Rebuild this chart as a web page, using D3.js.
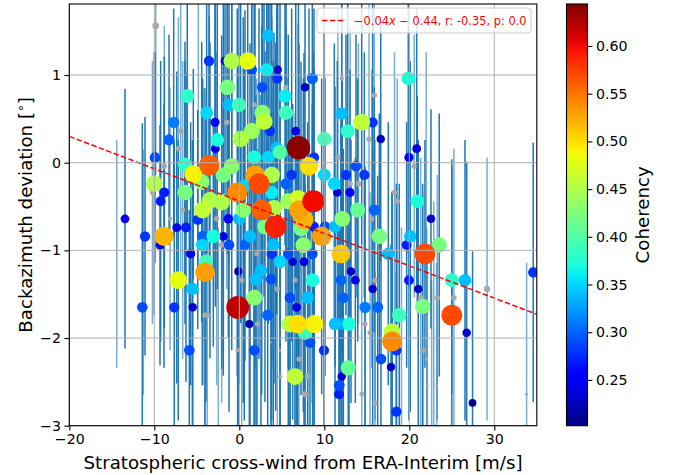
<!DOCTYPE html>
<html><head><meta charset="utf-8">
<script src="https://cdn.jsdelivr.net/npm/d3@7"></script>
<style>body{margin:0;background:#fff} svg{font-family:"DejaVu Sans",sans-serif}</style>
</head><body><svg id="c" width="675" height="475"></svg>
<script>
// ---- data ----
const windX = [3.41,-3.56,-1.68,-0.89,0.99,1.46,3.22,4.52,4.47,2.71,7.73,8.59,-1.39,5.38,-6.12,-1.21,-0.04,-3.84,2.71,5.49,
12.05,-2.86,-7.72,2.91,14.4,15.69,1.46,3.61,6.64,12.76,-8.27,-2.59,0.16,10.0,16.64,19.88,20.87,19.96,6.96,4.40,
-9.92,-2.82,-6.39,-3.53,-5.41,-1.88,-10.0,-4.42,-8.82,-6.39,-9.25,-3.45,-2.07,-4.31,-0.24,1.76,3.41,4.79,-0.89,8.20,
13.73,12.55,14.71,10.0,11.18,11.53,13.02,1.85,2.32,3.81,6.16,5.49,3.81,5.76,6.94,8.71,7.02,2.64,0.47,4.08,
13.93,15.88,20.94,-13.45,-4.89,-1.29,0.0,-7.36,-6.27,-11.09,-8.86,-4.31,-3.06,-1.88,-9.33,-4.35,-1.21,-5.72,-3.92,-4.04,
-7.18,-5.52,12.12,7.61,4.28,3.02,8.79,10.08,11.26,1.26,7.26,9.69,16.47,4.0,7.53,11.96,17.53,0.59,3.81,5.76,
6.28,7.61,8.59,4.79,2.55,-0.12,13.14,11.96,13.65,1.96,3.73,8.63,15.69,19.69,20.11,23.52,21.84,22.55,19.96,25.0,
26.55,21.05,34.58,-11.41,-7.65,-5.48,-0.19,-5.88,1.76,3.34,1.18,5.96,6.75,8.05,12.24,14.79,16.28,5.96,6.87,8.82,
7.73,8.32,11.26,12.05,12.91,1.76,9.96,16.67,17.85,12.82,12.05,11.76,11.73,6.55,18.82,21.57,25.0,26.75,17.97,17.97,
18.48,18.48,27.44,0.67,8.79];
const deviation = [1.45,1.16,1.16,1.16,1.16,1.06,1.06,1.06,0.96,0.86,0.86,0.96,0.86,0.76,0.76,0.66,0.66,0.57,0.57,0.57,
0.56,0.46,0.46,0.47,0.46,0.46,0.36,0.36,0.36,0.36,0.26,0.26,0.27,0.27,0.27,0.96,0.16,0.06,0.17,0.17,
0.06,0.16,-0.02,-0.03,-0.13,-0.14,-0.24,-0.22,-0.34,-0.34,-0.44,-0.43,-0.45,-0.54,-0.34,0.06,0.06,0.12,-0.04,-0.04,
-0.04,-0.14,-0.14,-0.14,-0.24,-0.34,-0.34,-0.14,-0.24,-0.14,-0.14,-0.24,-0.34,-0.44,-0.41,-0.44,-0.54,-0.54,-0.54,-0.52,
-0.54,-0.54,-0.44,-0.64,-0.65,-0.64,-0.64,-0.74,-0.74,-0.84,-0.84,-0.84,-0.84,-0.84,-0.94,-0.94,-0.94,-1.04,-1.13,-1.25,
-1.34,-1.44,-0.64,-0.65,-0.73,-0.73,-0.73,-0.73,-0.73,-0.84,-0.75,-0.84,-0.84,-0.94,-0.94,-1.04,-1.04,-0.94,-1.04,-1.04,
-1.13,-1.13,-1.04,-1.13,-1.23,-1.24,-1.24,-1.34,-1.34,-1.33,-1.33,-1.34,-1.44,-0.94,-0.84,-0.94,-1.04,-0.64,-1.34,-1.34,
-1.34,-1.44,-1.25,-1.65,-1.65,-1.65,-1.65,-2.14,-1.54,-1.74,-1.84,-1.54,-1.65,-1.54,-1.54,-1.65,-1.65,-1.84,-1.84,-1.84,
-1.94,-2.05,-1.84,-1.84,-1.84,-2.14,-2.14,-2.24,-2.33,-2.34,-2.44,-2.54,-2.64,-2.44,-1.74,-1.64,-1.74,-1.94,-1.93,-2.04,
-2.14,-2.84,-2.74,-0.26,0.06];
const coherency = [0.34,0.28,0.24,0.45,0.48,0.29,0.36,0.23,0.28,0.29,0.23,0.30,0.42,0.36,0.38,0.34,0.39,0.35,0.43,0.39,
0.34,0.25,0.31,0.46,0.46,0.28,0.44,0.28,0.24,0.38,0.30,0.37,0.45,0.39,0.23,0.37,0.24,0.25,0.64,0.34,
0.29,0.24,0.38,0.56,0.49,0.42,0.45,0.43,0.27,0.42,0.27,0.45,0.45,0.46,0.54,0.37,0.35,0.40,0.43,0.50,
0.29,0.28,0.28,0.35,0.35,0.23,0.25,0.53,0.57,0.45,0.28,0.30,0.36,0.44,0.47,0.60,0.53,0.56,0.43,0.45,
0.41,0.30,0.37,0.24,0.28,0.26,0.34,0.24,0.27,0.28,0.52,0.30,0.37,0.24,0.24,0.35,0.29,0.25,0.39,0.53,
0.48,0.34,0.43,0.52,0.59,0.42,0.27,0.29,0.34,0.34,0.42,0.53,0.42,0.34,0.43,0.51,0.34,0.30,0.28,0.29,
0.23,0.24,0.29,0.35,0.34,0.22,0.23,0.30,0.24,0.34,0.29,0.37,0.23,0.27,0.34,0.42,0.57,0.23,0.27,0.38,
0.34,0.23,0.28,0.29,0.28,0.23,0.62,0.29,0.43,0.30,0.22,0.29,0.24,0.34,0.30,0.31,0.30,0.46,0.50,0.49,
0.39,0.29,0.34,0.33,0.37,0.29,0.28,0.29,0.23,0.41,0.23,0.29,0.27,0.46,0.39,0.42,0.57,0.23,0.46,0.54,
0.28,0.28,0.21,0.35,0.28];
const devError = [1.6,1.5,1.8,1.4,1.7,1.9,1.5,1.6,1.8,1.7,1.5,1.6,1.9,1.7,1.5,1.8,2.0,1.6,1.9,1.7,
1.5,1.7,1.3,2.0,1.4,1.5,1.9,2.1,1.8,1.6,1.2,1.7,2.1,1.8,1.4,2.0,1.6,1.5,2.0,1.9,
1.2,1.8,1.4,1.7,1.2,2.0,1.5,1.6,1.55,1.5,1.6,1.8,1.9,1.5,2.1,2.2,1.9,2.0,2.1,1.8,
1.5,1.6,1.4,1.7,1.6,1.5,1.4,2.2,2.0,2.1,1.9,1.8,2.0,1.9,2.0,1.7,1.9,2.1,2.2,2.0,
1.5,1.4,1.2,1.48,1.25,1.36,1.9,1.78,1.76,1.36,1.5,1.7,1.26,1.59,1.37,1.6,1.9,1.5,1.6,2.1,
1.6,1.7,1.6,1.9,2.1,2.0,1.8,1.7,1.6,2.2,1.9,1.8,1.4,2.1,1.9,1.6,1.5,2.0,1.9,2.0,
1.8,1.9,1.7,2.1,2.0,2.2,1.5,1.7,1.4,2.1,1.9,1.8,1.6,1.4,2.0,1.5,1.3,1.25,1.6,1.3,
1.6,1.7,1.48,2.1,1.9,1.7,2.0,1.6,2.1,2.0,1.9,2.1,1.9,2.0,1.7,1.6,1.5,1.9,2.1,1.8,
1.7,1.6,1.6,1.7,1.5,1.8,1.9,1.5,1.4,1.6,1.7,1.8,1.9,1.8,1.5,1.4,1.78,1.95,1.6,1.7,
1.9,1.6,1.73,2.0,1.7];
// low-coherency events (grey)
const greyX = [-9.83,-6.89,-1.48,-7.17,5.49,12.05,15.88,15.26,1.76,20.58,18.26,18.58,21.99,29.15,21.34,23.29,25.25,21.58,22.05,22.12,
23.22,22.63,33.8,-4.04,-3.77,-2.47,4.47,-0.19,3.73,4.79,7.02,8.04,7.73,15.97,14.41,15.38,14.79,2.12,19.08,-8.82,
-8.15,-6.66,-2.66,-2.07,-14.42,-10.22,-11.29,11.6,14.02,13.04,0.28,6.55,8.71,4.79,22.88,-4.82,15.58,2.05,15.97];
const greyY = [1.56,0.36,0.46,0.16,0.86,0.96,0.77,0.27,0.66,-0.04,-0.34,-0.44,-0.24,-1.44,-1.54,-1.54,-1.54,-2.14,-2.24,-2.54,
-2.54,-2.84,-2.64,-1.74,-1.74,-2.64,-1.44,-2.14,-2.05,-2.14,-2.24,-2.44,-2.64,-2.74,-2.64,-1.94,-1.84,-1.84,-2.24,-0.04,
-0.64,-0.54,-0.64,-0.94,-1.04,-0.34,-1.25,0.06,-0.24,-0.24,-1.34,-1.34,-1.74,-2.44,-1.94,0.27,-0.64,-1.04,-1.34];
const greyCoh = [0.18,0.16,0.15,0.15,0.14,0.12,0.15,0.14,0.14,0.14,0.15,0.15,0.08,0.17,0.15,0.15,0.15,0.15,0.09,0.08,
0.08,0.06,0.08,0.15,0.15,0.06,0.15,0.12,0.06,0.07,0.14,0.15,0.16,0.15,0.13,0.14,0.14,0.14,0.06,0.15,
0.12,0.14,0.15,0.15,0.05,0.14,0.05,0.15,0.15,0.15,0.14,0.14,0.06,0.12,0.05,0.06,0.14,0.14,0.14];
const greyError = [1.7,1.6,1.9,1.5,1.8,1.6,1.4,1.7,2.0,1.5,1.6,1.4,1.5,1.5,1.6,1.4,1.7,1.8,1.5,1.6,
1.4,1.5,1.5,1.8,1.7,1.9,2.0,1.8,1.9,2.0,1.7,1.8,1.6,1.5,1.7,1.6,1.8,2.0,1.5,1.6,
1.5,1.7,1.9,1.8,1.3,1.5,1.4,1.7,1.6,1.8,2.0,1.9,1.7,1.8,1.5,1.6,1.7,2.0,1.6];
const xTicks = [-20,-10,0,10,20,30];
const yTicks = [-3,-2,-1,0,1];
const cbTicks = [0.25,0.30,0.35,0.40,0.45,0.50,0.55,0.60];
const fitSlope = -0.0369, fitIntercept = -0.438;
const legendPrefix = "\u22120.04", legendVar = "x", legendSuffix = " \u2212 0.44, r: -0.35, p: 0.0";
const xLabel = "Stratospheric cross-wind from ERA-Interim [m/s]";
const yLabel = "Backazimuth deviation [";
const cbLabel = "Coherency";

// ---- drawing ----
const svg = d3.select("#c");
const L = 69.3, R = 536.8, T = 4, B = 425.7;
const x = d3.scaleLinear().domain([-20, 35]).range([L, R]);
const y = d3.scaleLinear().domain([-3, 1.81]).range([B, T]);
const rad = d3.scaleLinear().domain([0, 1]).range([0, 18.4]);
const jetR = d3.scaleLinear().domain([0,0.35,0.66,0.89,1]).range([0,0,1,1,0.5]).clamp(true);
const jetG = d3.scaleLinear().domain([0,0.125,0.375,0.64,0.91,1]).range([0,0,1,1,0,0]).clamp(true);
const jetB = d3.scaleLinear().domain([0,0.11,0.34,0.65,1]).range([0.5,1,1,0,0]).clamp(true);
const jet = t => d3.rgb(jetR(t)*255, jetG(t)*255, jetB(t)*255).formatHex();
const cDom = [0.202, 0.644];
const cNorm = d3.scaleLinear().domain(cDom).range([0, 1]).clamp(true);

svg.append("defs").append("clipPath").attr("id","pc").append("rect")
  .attr("x",L).attr("y",T).attr("width",R-L).attr("height",B-T);
const plot = svg.append("g").attr("clip-path","url(#pc)");

const pts = windX.map((v,i)=>({x:v,y:deviation[i],c:coherency[i],e:devError[i]}));
const gpts = greyX.map((v,i)=>({x:v,y:greyY[i],c:greyCoh[i],e:greyError[i]}));

plot.append("g").selectAll("line").data(gpts).join("line")
  .attr("x1",d=>x(d.x)).attr("x2",d=>x(d.x)).attr("y1",d=>y(d.y+d.e)).attr("y2",d=>y(d.y-d.e))
  .attr("stroke","#1f77b4").attr("stroke-opacity",0.6).attr("stroke-width",1.5);
plot.append("g").selectAll("line").data(pts).join("line")
  .attr("x1",d=>x(d.x)).attr("x2",d=>x(d.x)).attr("y1",d=>y(d.y+d.e)).attr("y2",d=>y(d.y-d.e))
  .attr("stroke","#1f77b4").attr("stroke-opacity",1).attr("stroke-width",1.5);

// grid
const grid = svg.append("g").attr("stroke","#b0b0b0").attr("stroke-width",1);
xTicks.forEach(t=>grid.append("line").attr("x1",x(t)).attr("x2",x(t)).attr("y1",T).attr("y2",B));
yTicks.forEach(t=>grid.append("line").attr("x1",L).attr("x2",R).attr("y1",y(t)).attr("y2",y(t)));

plot.append("g").selectAll("circle").data(gpts).join("circle")
  .attr("cx",d=>x(d.x)).attr("cy",d=>y(d.y)).attr("r",d=>rad(d.c)).attr("fill","#a9a9a9");
plot.append("g").selectAll("circle").data(pts.slice().sort((a,b)=>a.c-b.c)).join("circle")
  .attr("cx",d=>x(d.x)).attr("cy",d=>y(d.y)).attr("r",d=>rad(d.c)).attr("fill",d=>jet(cNorm(d.c)));

// fit line
plot.append("line").attr("x1",x(-20)).attr("x2",x(35))
  .attr("y1",y(fitSlope*-20+fitIntercept)).attr("y2",y(fitSlope*35+fitIntercept))
  .attr("stroke","#ff0000").attr("stroke-width",1.5).attr("stroke-dasharray","5.5,2.4");

// frame
svg.append("rect").attr("x",L).attr("y",T).attr("width",R-L).attr("height",B-T)
  .attr("fill","none").attr("stroke","#000").attr("stroke-width",1.1);

// axes
const xa = svg.append("g").attr("transform",`translate(0,${B})`)
  .call(d3.axisBottom(x).tickValues(xTicks).tickSize(4.9).tickPadding(3.5).tickFormat(d=>d<0?"\u2212"+Math.abs(d):d));
const ya = svg.append("g").attr("transform",`translate(${L},0)`)
  .call(d3.axisLeft(y).tickValues(yTicks).tickSize(4.9).tickPadding(3.5).tickFormat(d=>d<0?"\u2212"+Math.abs(d):d));
[xa,ya].forEach(a=>{a.select(".domain").remove();
  a.selectAll("text").attr("font-size",14.2).attr("font-family","DejaVu Sans").attr("fill","#000");
  a.selectAll("line").attr("stroke","#000").attr("stroke-width",1.1);});

svg.append("text").attr("x",(L+R)/2).attr("y",469).attr("text-anchor","middle")
  .attr("font-size",18.2).text(xLabel);
const yl = svg.append("text").attr("transform",`translate(32,${(T+B)/2}) rotate(-90)`)
  .attr("text-anchor","middle").attr("font-size",18.2);
yl.append("tspan").text(yLabel);
yl.append("tspan").attr("dy",-7.5).attr("font-size",12.5).text("\u2218");
yl.append("tspan").attr("dy",7.5).text("]");

// legend
const lg = svg.append("g");
lg.append("rect").attr("x",317).attr("y",8).attr("width",214).attr("height",25).attr("rx",3)
  .attr("fill","#fff").attr("fill-opacity",0.8).attr("stroke","#cccccc").attr("stroke-width",1);
lg.append("line").attr("x1",322).attr("x2",346).attr("y1",20.5).attr("y2",20.5)
  .attr("stroke","#ff0000").attr("stroke-width",1.5).attr("stroke-dasharray","5.5,2.4");
const lt = lg.append("text").attr("x",354).attr("y",25).attr("font-size",11.4).attr("fill","#ff0000");
lt.append("tspan").text(legendPrefix);
lt.append("tspan").attr("font-style","italic").text(legendVar);
lt.append("tspan").text(legendSuffix);

// colorbar
const CL = 566.5, CR = 587.5;
const grad = svg.select("defs").append("linearGradient").attr("id","cg")
  .attr("x1",0).attr("x2",0).attr("y1",1).attr("y2",0);
d3.range(0,1.0001,0.02).forEach(t=>grad.append("stop").attr("offset",t).attr("stop-color",jet(t)));
svg.append("rect").attr("x",CL).attr("y",T).attr("width",CR-CL).attr("height",B-T).attr("fill","url(#cg)")
  .attr("stroke","#000").attr("stroke-width",1.1);
const cy = d3.scaleLinear().domain(cDom).range([B, T]);
const ca = svg.append("g").attr("transform",`translate(${CR},0)`)
  .call(d3.axisRight(cy).tickValues(cbTicks).tickSize(4.9).tickPadding(3.5).tickFormat(d3.format(".2f")));
ca.select(".domain").remove();
ca.selectAll("text").attr("font-size",14.2).attr("font-family","DejaVu Sans").attr("fill","#000");
ca.selectAll("line").attr("stroke","#000").attr("stroke-width",1.1);
svg.append("text").attr("transform",`translate(649,${(T+B)/2}) rotate(-90)`).attr("text-anchor","middle")
  .attr("font-size",18.2).text(cbLabel);
</script></body></html>
